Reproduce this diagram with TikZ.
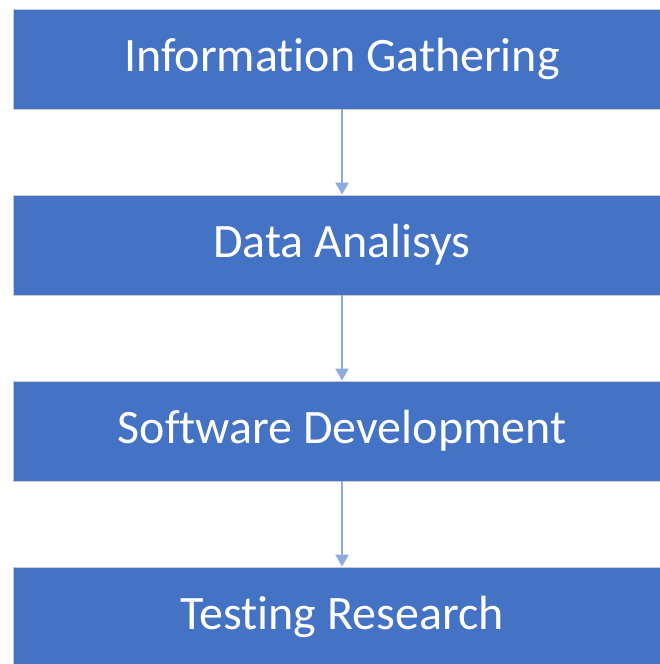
\documentclass[tikz,border=0pt]{standalone}
\usepackage{fontspec}
\setmainfont[Ligatures={NoCommon}]{Carlito}
\usetikzlibrary{arrows.meta}
\definecolor{stepblue}{HTML}{4472C4}
\definecolor{arrowblue}{HTML}{8FAADC}

\begin{document}
\begin{tikzpicture}[x=1pt, y=-1pt,
    phase/.style={rectangle, draw=gray!40, line width=0.8pt, fill=stepblue, text=white,
      minimum width=658pt, minimum height=100pt, inner sep=0pt, font=\fontsize{48}{56}\selectfont},
    flow/.style={draw=arrowblue, line width=2pt, -{Triangle[width=13pt, length=12pt]}}]
    \useasboundingbox (0,0) rectangle (660,664);

    % 各工程のボックス
    \node[phase] (info) at (342, 59) {Information Gathering};
    \node[phase] (data) at (342, 245) {Data Analisys};
    \node[phase] (soft) at (342, 431) {Software Development};
    \node[phase] (test) at (342, 617) {Testing Research};

    % 工程をつなぐ矢印
    \draw[flow] (info) -- (data);
    \draw[flow] (data) -- (soft);
    \draw[flow] (soft) -- (test);

  \end{tikzpicture}
\end{document}
